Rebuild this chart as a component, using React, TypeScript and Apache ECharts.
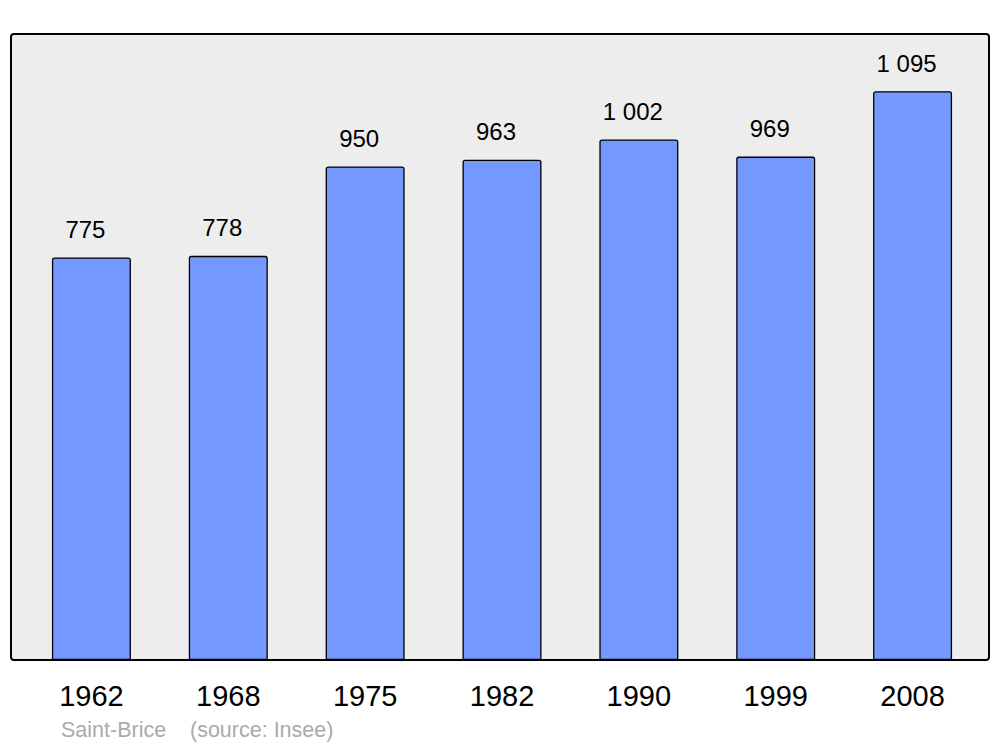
import React, { useEffect, useRef } from "react";
import * as echarts from "echarts";

const years = ["1962", "1968", "1975", "1982", "1990", "1999", "2008"];
const population = [775, 778, 950, 963, 1002, 969, 1095];
const footerName = "Saint-Brice";
const footerSource = "(source: Insee)";

function fmt(v: number): string {
  return String(v).replace(/\B(?=(\d{3})+(?!\d))/g, " ");
}

export default function App() {
  const ref = useRef<HTMLDivElement>(null);
  useEffect(() => {
    if (!ref.current) return;
    const chart = echarts.init(ref.current, undefined, { renderer: "svg" });
    chart.setOption({
      animation: false,
      backgroundColor: "#ffffff",
      grid: { left: 23, right: 19, top: 34, bottom: 87 },
      xAxis: {
        type: "category",
        data: years,
        axisLine: { show: false },
        axisTick: { show: false },
        axisLabel: {
          margin: 21,
          fontSize: 29,
          color: "#000",
          fontFamily: "Liberation Sans, Arial, sans-serif",
        },
      },
      yAxis: { type: "value", min: 0, max: 1205, show: false, splitLine: { show: false } },
      graphic: [
        {
          type: "rect",
          z: -10,
          shape: { x: 11, y: 34, width: 978, height: 626, r: 3 },
          style: { fill: "#ededed", stroke: "none" },
        },
        {
          type: "rect",
          z: 100,
          shape: { x: 11, y: 34, width: 978, height: 626, r: 3 },
          style: { fill: "none", stroke: "#000", lineWidth: 2 },
        },
        {
          type: "text",
          x: 61,
          y: 730,
          style: {
            text: footerName,
            fill: "#aaaaaa",
            fontSize: 21.5,
            fontFamily: "Liberation Sans, Arial, sans-serif",
            verticalAlign: "middle",
          },
        },
        {
          type: "text",
          x: 190,
          y: 730,
          style: {
            text: footerSource,
            fill: "#aaaaaa",
            fontSize: 21.5,
            fontFamily: "Liberation Sans, Arial, sans-serif",
            verticalAlign: "middle",
          },
        },
      ],
      series: [
        {
          type: "bar",
          data: population,
          barWidth: 79,
          itemStyle: {
            color: "#7399ff",
            borderColor: "#000",
            borderWidth: 1.3,
            borderRadius: [2, 2, 0, 0],
          },
          label: {
            show: true,
            position: "top",
            distance: 16,
            offset: [-6, 0],
            fontSize: 24,
            color: "#000",
            fontFamily: "Liberation Sans, Arial, sans-serif",
            formatter: (p: any) => fmt(p.value),
          },
        },
      ],
    });
    return () => chart.dispose();
  }, []);
  return <div ref={ref} style={{ width: 1000, height: 747, position: "absolute", left: 0, top: 0 }} />;
}
